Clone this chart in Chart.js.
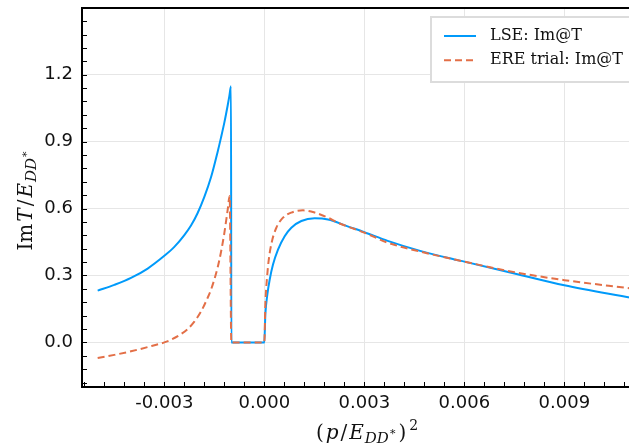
<!DOCTYPE html>
<html>
<head>
<meta charset="utf-8">
<script src="https://cdn.jsdelivr.net/npm/chart.js@4"></script>
<style>
  html, body { margin: 0; padding: 0; background: #fff; overflow: hidden; }
  #wrap { width: 660px; height: 445px; }
</style>
</head>
<body>
<div id="wrap"><canvas id="plot" width="660" height="445"></canvas></div>
<script>
// LSE amplitude, imaginary part
const lseX = [-0.005, -0.0045, -0.004, -0.0035, -0.003, -0.0027, -0.0024, -0.0022, -0.002,
  -0.0018, -0.0016, -0.0014, -0.0013, -0.0012, -0.0011, -0.00105, -0.001, -0.00099, 0,
  0.00003, 0.00009, 0.00016, 0.00026, 0.00041, 0.00061, 0.00081, 0.00111, 0.00151, 0.00191,
  0.0025, 0.003, 0.0037, 0.0047, 0.0057, 0.006, 0.0075, 0.009, 0.011];
const lseY = [0.232, 0.258, 0.289, 0.331, 0.388, 0.428, 0.481, 0.524, 0.58,
  0.652, 0.74, 0.855, 0.918, 0.985, 1.062, 1.104, 1.148, 0, 0,
  0.124, 0.214, 0.281, 0.349, 0.416, 0.476, 0.514, 0.544, 0.556, 0.551,
  0.52, 0.494, 0.455, 0.409, 0.372, 0.362, 0.309, 0.256, 0.2];

// ERE trial amplitude, imaginary part
const ereX = [-0.005, -0.0045, -0.004, -0.0035, -0.003, -0.0028, -0.0025, -0.0023, -0.0021,
  -0.0019, -0.0017, -0.0016, -0.0015, -0.0014, -0.0013, -0.0012, -0.0011, -0.00104, -0.00099,
  0, 0.00003, 0.00008, 0.00014, 0.00023, 0.00036, 0.00056, 0.00081, 0.00116, 0.00151,
  0.00191, 0.0022, 0.003, 0.0037, 0.0047, 0.0057, 0.006, 0.0075, 0.009, 0.011];
const ereY = [-0.07, -0.056, -0.04, -0.021, 0.0, 0.012, 0.037, 0.06, 0.093,
  0.138, 0.2, 0.236, 0.282, 0.336, 0.405, 0.49, 0.594, 0.656, 0,
  0, 0.169, 0.289, 0.379, 0.454, 0.514, 0.559, 0.582, 0.592, 0.582,
  0.559, 0.537, 0.492, 0.447, 0.406, 0.372, 0.362, 0.315, 0.279, 0.242];

const seriesLabels = ['LSE: Im@T', 'ERE trial: Im@T'];

// axis limits and tick steps
const xMin = -0.00547, xMax = 0.01163;
const yMin = -0.2, yMax = 1.499;
const xMinor = 0.0006, yMinor = 0.06; // majors every 5th

const BLUE = '#009AFA', ORANGE = '#E36F47';

function pairs(xs, ys) { return xs.map((x, i) => ({ x: x, y: ys[i] })); }

function isMajor(v, step) {
  const k = Math.round(v / step);
  return Math.abs(v - k * step) < step * 1e-6 && k % 5 === 0;
}

function minorTicks(lo, hi, step) {
  const out = [];
  for (let k = Math.ceil(lo / step - 1e-9); k * step <= hi + 1e-12; k++) {
    out.push({ value: Math.round(k * step * 1e6) / 1e6 });
  }
  return out;
}

// text runs with italic pieces and sub/superscripts
function setFont(ctx, p) {
  ctx.font = (p.it ? 'italic ' : '') + p.size + 'px "DejaVu Serif"';
}
function runWidth(ctx, parts) {
  let w = 0;
  for (const p of parts) {
    setFont(ctx, p);
    w += ctx.measureText(p.t).width + (p.gap || 0);
  }
  return w;
}
function drawRun(ctx, parts, x, y) {
  for (const p of parts) {
    setFont(ctx, p);
    ctx.fillText(p.t, x, y + (p.dy || 0));
    x += ctx.measureText(p.t).width + (p.gap || 0);
  }
}

const xTitle = [
  { t: '(', size: 20, gap: 2 }, { t: 'p', size: 20, it: true, gap: 2 },
  { t: '/', size: 20, gap: 2 }, { t: 'E', size: 20, it: true, gap: 1 },
  { t: 'DD', size: 15, it: true, dy: 4, gap: 1 }, { t: '*', size: 11, dy: -2, gap: 3 },
  { t: ')', size: 20, gap: 3 }, { t: '2', size: 14, dy: -9 }
];
const yTitle = [
  { t: 'Im', size: 20, gap: 2 }, { t: 'T', size: 20, it: true, gap: 2 },
  { t: '/', size: 20, gap: 2 }, { t: 'E', size: 20, it: true, gap: 1 },
  { t: 'DD', size: 15, it: true, dy: 4, gap: 1 }, { t: '*', size: 11, dy: -2 }
];

const decor = {
  id: 'decor',
  afterDraw(chart) {
    const ctx = chart.ctx;
    const a = chart.chartArea;
    const xs = chart.scales.x, ys = chart.scales.y;
    ctx.save();

    // inward tick marks
    ctx.strokeStyle = '#000';
    ctx.lineWidth = 1;
    ctx.beginPath();
    for (const t of xs.ticks) {
      const px = Math.round(xs.getPixelForValue(t.value)) + 0.5;
      ctx.moveTo(px, a.bottom);
      ctx.lineTo(px, a.bottom - 5);
    }
    for (const t of ys.ticks) {
      const py = Math.round(ys.getPixelForValue(t.value)) + 0.5;
      ctx.moveTo(a.left, py);
      ctx.lineTo(a.left + 5, py);
    }
    ctx.stroke();

    // frame
    ctx.lineWidth = 2;
    ctx.strokeRect(a.left, a.top, a.right - a.left, a.bottom - a.top);

    // axis titles
    ctx.fillStyle = '#111';
    ctx.textBaseline = 'alphabetic';
    ctx.textAlign = 'left';
    const wx = runWidth(ctx, xTitle);
    drawRun(ctx, xTitle, (a.left + a.right) / 2 - wx / 2, 439);
    ctx.save();
    ctx.translate(32, 201);
    ctx.rotate(-Math.PI / 2);
    const wy = runWidth(ctx, yTitle);
    drawRun(ctx, yTitle, -wy / 2, 0);
    ctx.restore();

    // legend box
    const bx = 431, by = 17, bw = 206, bh = 65;
    ctx.fillStyle = '#fff';
    ctx.fillRect(bx, by, bw, bh);
    ctx.strokeStyle = '#dcdcdc';
    ctx.lineWidth = 2;
    ctx.strokeRect(bx, by, bw, bh);
    ctx.font = '16px "DejaVu Serif"';
    ctx.textBaseline = 'middle';
    chart.data.datasets.forEach((ds, i) => {
      const ly = 36 + i * 24.3;
      ctx.strokeStyle = ds.borderColor;
      ctx.lineWidth = 2;
      ctx.setLineDash(ds.borderDash || []);
      ctx.beginPath();
      ctx.moveTo(444, ly);
      ctx.lineTo(476, ly);
      ctx.stroke();
      ctx.setLineDash([]);
      ctx.fillStyle = '#111';
      ctx.fillText(ds.label, 490, ly);
    });
    ctx.restore();
  }
};

new Chart(document.getElementById('plot'), {
  type: 'line',
  data: {
    datasets: [
      {
        label: seriesLabels[0],
        data: pairs(lseX, lseY),
        borderColor: BLUE,
        borderWidth: 2,
        pointRadius: 0,
        cubicInterpolationMode: 'monotone',
        order: 1
      },
      {
        label: seriesLabels[1],
        data: pairs(ereX, ereY),
        borderColor: ORANGE,
        borderWidth: 2,
        borderDash: [7, 4],
        pointRadius: 0,
        cubicInterpolationMode: 'monotone',
        order: 0
      }
    ]
  },
  options: {
    responsive: false,
    animation: false,
    devicePixelRatio: 1,
    layout: { padding: { top: 8, right: 8, left: 0, bottom: 0 } },
    plugins: { legend: { display: false }, tooltip: { enabled: false } },
    scales: {
      x: {
        type: 'linear',
        min: xMin,
        max: xMax,
        afterBuildTicks: s => { s.ticks = minorTicks(xMin, xMax, xMinor); },
        afterFit: s => { s.height = 58; s.paddingLeft = 0; s.paddingRight = 0; },
        border: { display: false },
        grid: {
          drawTicks: false,
          color: c => (c.tick && isMajor(c.tick.value, xMinor)) ? '#e6e6e6' : 'rgba(0,0,0,0)'
        },
        ticks: {
          autoSkip: false,
          maxRotation: 0,
          padding: 6,
          color: '#111',
          font: { family: 'DejaVu Sans', size: 18 },
          callback: v => isMajor(v, xMinor) ? (Math.round(v * 1000) / 1000).toFixed(3).replace('-0.000', '0.000') : ''
        }
      },
      y: {
        type: 'linear',
        min: yMin,
        max: yMax,
        afterBuildTicks: s => { s.ticks = minorTicks(yMin, yMax, yMinor); },
        afterFit: s => { s.width = 82; s.paddingTop = 0; s.paddingBottom = 0; },
        border: { display: false },
        grid: {
          drawTicks: false,
          color: c => (c.tick && isMajor(c.tick.value, yMinor)) ? '#e6e6e6' : 'rgba(0,0,0,0)'
        },
        ticks: {
          autoSkip: false,
          padding: 9,
          color: '#111',
          font: { family: 'DejaVu Sans', size: 18 },
          callback: v => isMajor(v, yMinor) ? (Math.round(v * 10) / 10).toFixed(1) : ''
        }
      }
    }
  },
  plugins: [decor]
});
</script>
</body>
</html>
